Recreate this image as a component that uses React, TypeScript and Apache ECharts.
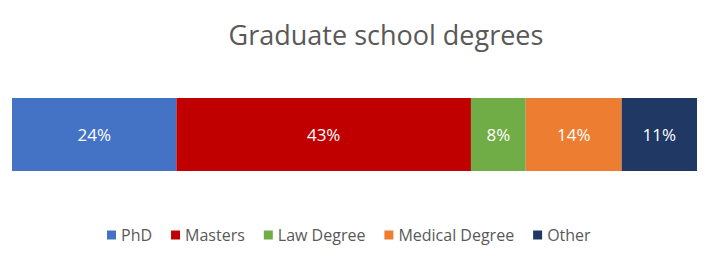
import React, { useEffect, useRef } from "react";
import * as echarts from "echarts";

const categories = ["Degrees"];
const seriesNames = ["PhD", "Masters", "Law Degree", "Medical Degree", "Other"];
const seriesValues = [24, 43, 8, 14, 11];
const seriesColors = ["#4472C4", "#C00000", "#70AD47", "#ED7D31", "#203864"];

export default function App() {
  const ref = useRef<HTMLDivElement>(null);
  useEffect(() => {
    const chart = echarts.init(ref.current!, null, { renderer: "svg" });
    const font = "'Open Sans', 'Liberation Sans', sans-serif";
    chart.setOption({
      animation: false,
      title: {
        text: "Graduate school degrees",
        left: 381,
        textAlign: "center",
        top: 16,
        textStyle: { fontFamily: font, fontSize: 27, fontWeight: "normal", color: "#595959" },
      },
      legend: {
        bottom: 19,
        left: 102,
        itemWidth: 9,
        itemHeight: 9,
        itemGap: 19,
        icon: "rect",
        data: seriesNames,
        textStyle: { fontFamily: font, fontSize: 16, color: "#595959" },
      },
      grid: { left: 12, right: 18, top: 98, bottom: 96 },
      xAxis: { type: "value", min: 0, max: 100, show: false },
      yAxis: { type: "category", data: categories, show: false },
      series: seriesNames.map((name, i) => ({
        name,
        type: "bar",
        stack: "total",
        barCategoryGap: 0,
        barWidth: "100%",
        data: [seriesValues[i]],
        itemStyle: { color: seriesColors[i] },
        label: {
          show: true,
          position: "inside",
          formatter: "{c}%",
          color: "#fff",
          fontFamily: font,
          fontSize: 17,
        },
      })),
    });
    return () => chart.dispose();
  }, []);
  return <div ref={ref} style={{ width: 715, height: 267, margin: -8 }} />;
}
